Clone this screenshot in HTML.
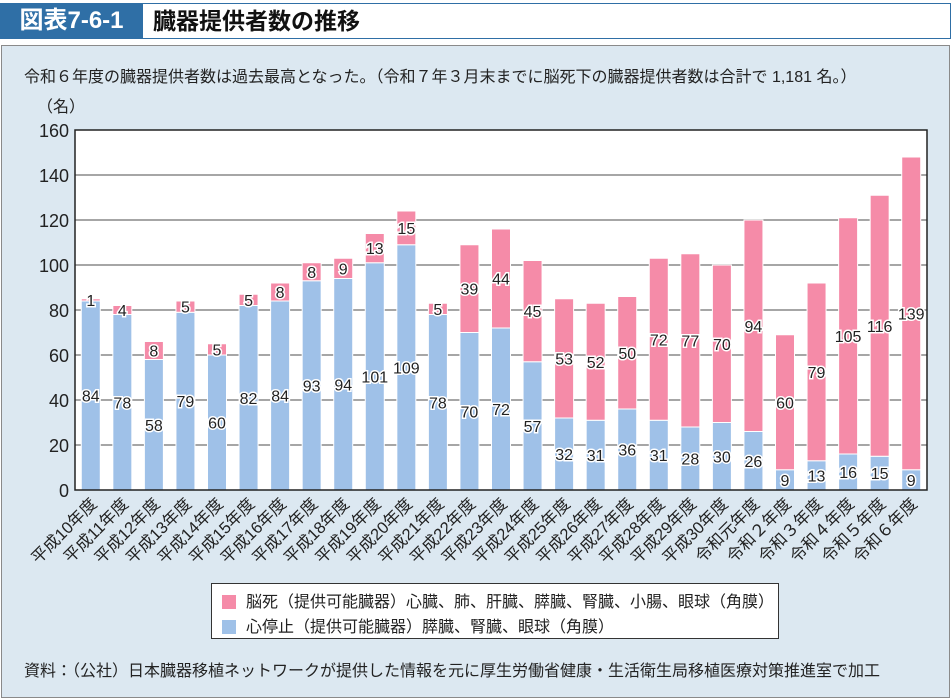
<!DOCTYPE html>
<html><head><meta charset="utf-8"><style>
body{margin:0;width:951px;height:699px;background:#fff;font-family:"Liberation Sans","Noto Sans CJK JP",sans-serif;position:relative;overflow:hidden}
.abs{position:absolute}
</style></head><body>
<div class="abs" style="left:0;top:3px;width:949px;height:34px;border:1px solid #2f6fa6;background:#fff"></div>
<div class="abs" style="left:0;top:3px;width:143px;height:36px;background:#2f6fa6;color:#fff;font-size:24px;font-weight:bold;line-height:36px;text-align:center">図表7-6-1</div>
<div class="abs" style="left:153px;top:3px;height:36px;line-height:36px;font-size:23px;font-weight:bold;color:#111">臓器提供者数の推移</div>
<div class="abs" style="left:1px;top:45px;width:947px;height:651px;background:#dce8f1;border:1px solid #8a8a8a"></div>
<div class="abs" style="left:24px;top:63px;font-size:16px;color:#222;white-space:nowrap">令和６年度の臓器提供者数は過去最高となった。（令和７年３月末までに脳死下の臓器提供者数は合計で 1,181 名。）</div>
<svg class="abs" style="left:0;top:0" width="951" height="699" id="chart"></svg>
<div class="abs" style="left:211px;top:583px;width:566px;height:54px;background:#fff;border:1px solid #333"></div>
<div class="abs" style="left:222px;top:588px;font-size:16px;color:#222;white-space:nowrap"><span style="display:inline-block;width:14px;height:14px;background:#f58ba8;vertical-align:-2px;margin-right:10px"></span>脳死（提供可能臓器）心臓、肺、肝臓、膵臓、腎臓、小腸、眼球（角膜）</div>
<div class="abs" style="left:222px;top:613px;font-size:16px;color:#222;white-space:nowrap"><span style="display:inline-block;width:14px;height:14px;background:#9fc1e8;vertical-align:-2px;margin-right:10px"></span>心停止（提供可能臓器）膵臓、腎臓、眼球（角膜）</div>
<div class="abs" style="left:24px;top:657px;font-size:16px;color:#222;white-space:nowrap">資料：（公社）日本臓器移植ネットワークが提供した情報を元に厚生労働省健康・生活衛生局移植医療対策推進室で加工</div>
<script>
const categories=["平成10年度","平成11年度","平成12年度","平成13年度","平成14年度","平成15年度","平成16年度","平成17年度","平成18年度","平成19年度","平成20年度","平成21年度","平成22年度","平成23年度","平成24年度","平成25年度","平成26年度","平成27年度","平成28年度","平成29年度","平成30年度","令和元年度","令和２年度","令和３年度","令和４年度","令和５年度","令和６年度"];
const cardiac=[84,78,58,79,60,82,84,93,94,101,109,78,70,72,57,32,31,36,31,28,30,26,9,13,16,15,9];
const brain=[1,4,8,5,5,5,8,8,9,13,15,5,39,44,45,53,52,50,72,77,70,94,60,79,105,116,139];
const yTicks=[0,20,40,60,80,100,120,140,160];
const svg=document.getElementById('chart');
const NS='http://www.w3.org/2000/svg';
const L=75,R=927,T=130,B=490,yMax=160;
const y=v=>B-(v/yMax)*(B-T);
const step=(R-L)/categories.length;
const x=i=>L+step*(i+0.5);
const bw=19;
function mk(tag,attrs,parent){const e=document.createElementNS(NS,tag);for(const k in attrs)e.setAttribute(k,attrs[k]);(parent||svg).appendChild(e);return e;}
const plot=mk('rect',{x:L,y:T,width:R-L,height:B-T,fill:'#fff'});


yTicks.forEach(t=>{
  if(t>0&&t<yMax){const g=mk('line',{x1:L,x2:R,y1:y(t),y2:y(t),stroke:'#888','stroke-width':1.5});
  
  }
  const tx=mk('text',{x:L-6,y:y(t)+7,'text-anchor':'end','font-size':18,fill:'#222'});
  tx.textContent=t;
  
  
});
const unit=mk('text',{x:37,y:112,'font-size':16,fill:'#222'});unit.textContent='（名）';


function label(v,cx,cy){const t=mk('text',{x:cx,y:cy+6,'text-anchor':'middle','font-size':16,fill:'#222',stroke:'#fff','stroke-width':3,'paint-order':'stroke'});t.textContent=v;

}
categories.forEach((c,i)=>{
  const cx=x(i);
  const b1=mk('rect',{x:cx-bw/2,y:y(cardiac[i]),width:bw,height:B-y(cardiac[i]),fill:'#9fc1e8',stroke:'#fff','stroke-width':1});
  
  
  const top=cardiac[i]+brain[i];
  const b2=mk('rect',{x:cx-bw/2,y:y(top),width:bw,height:y(cardiac[i])-y(top),fill:'#f58ba8',stroke:'#fff','stroke-width':1});
  
  
  label(cardiac[i],cx,y(cardiac[i]/2));
  label(brain[i],cx,y(cardiac[i]+brain[i]/2));
  const t=mk('text',{x:cx+7,y:B+15,'text-anchor':'end','font-size':16.5,fill:'#222',transform:`rotate(-45 ${cx+7} ${B+15})`});
  t.textContent=c;
  
  
});
const ax=mk('path',{d:`M${L} ${T}H${R}V${B}H${L}Z`,fill:'none',stroke:'#222','stroke-width':1.5});


</script>
</body></html>
